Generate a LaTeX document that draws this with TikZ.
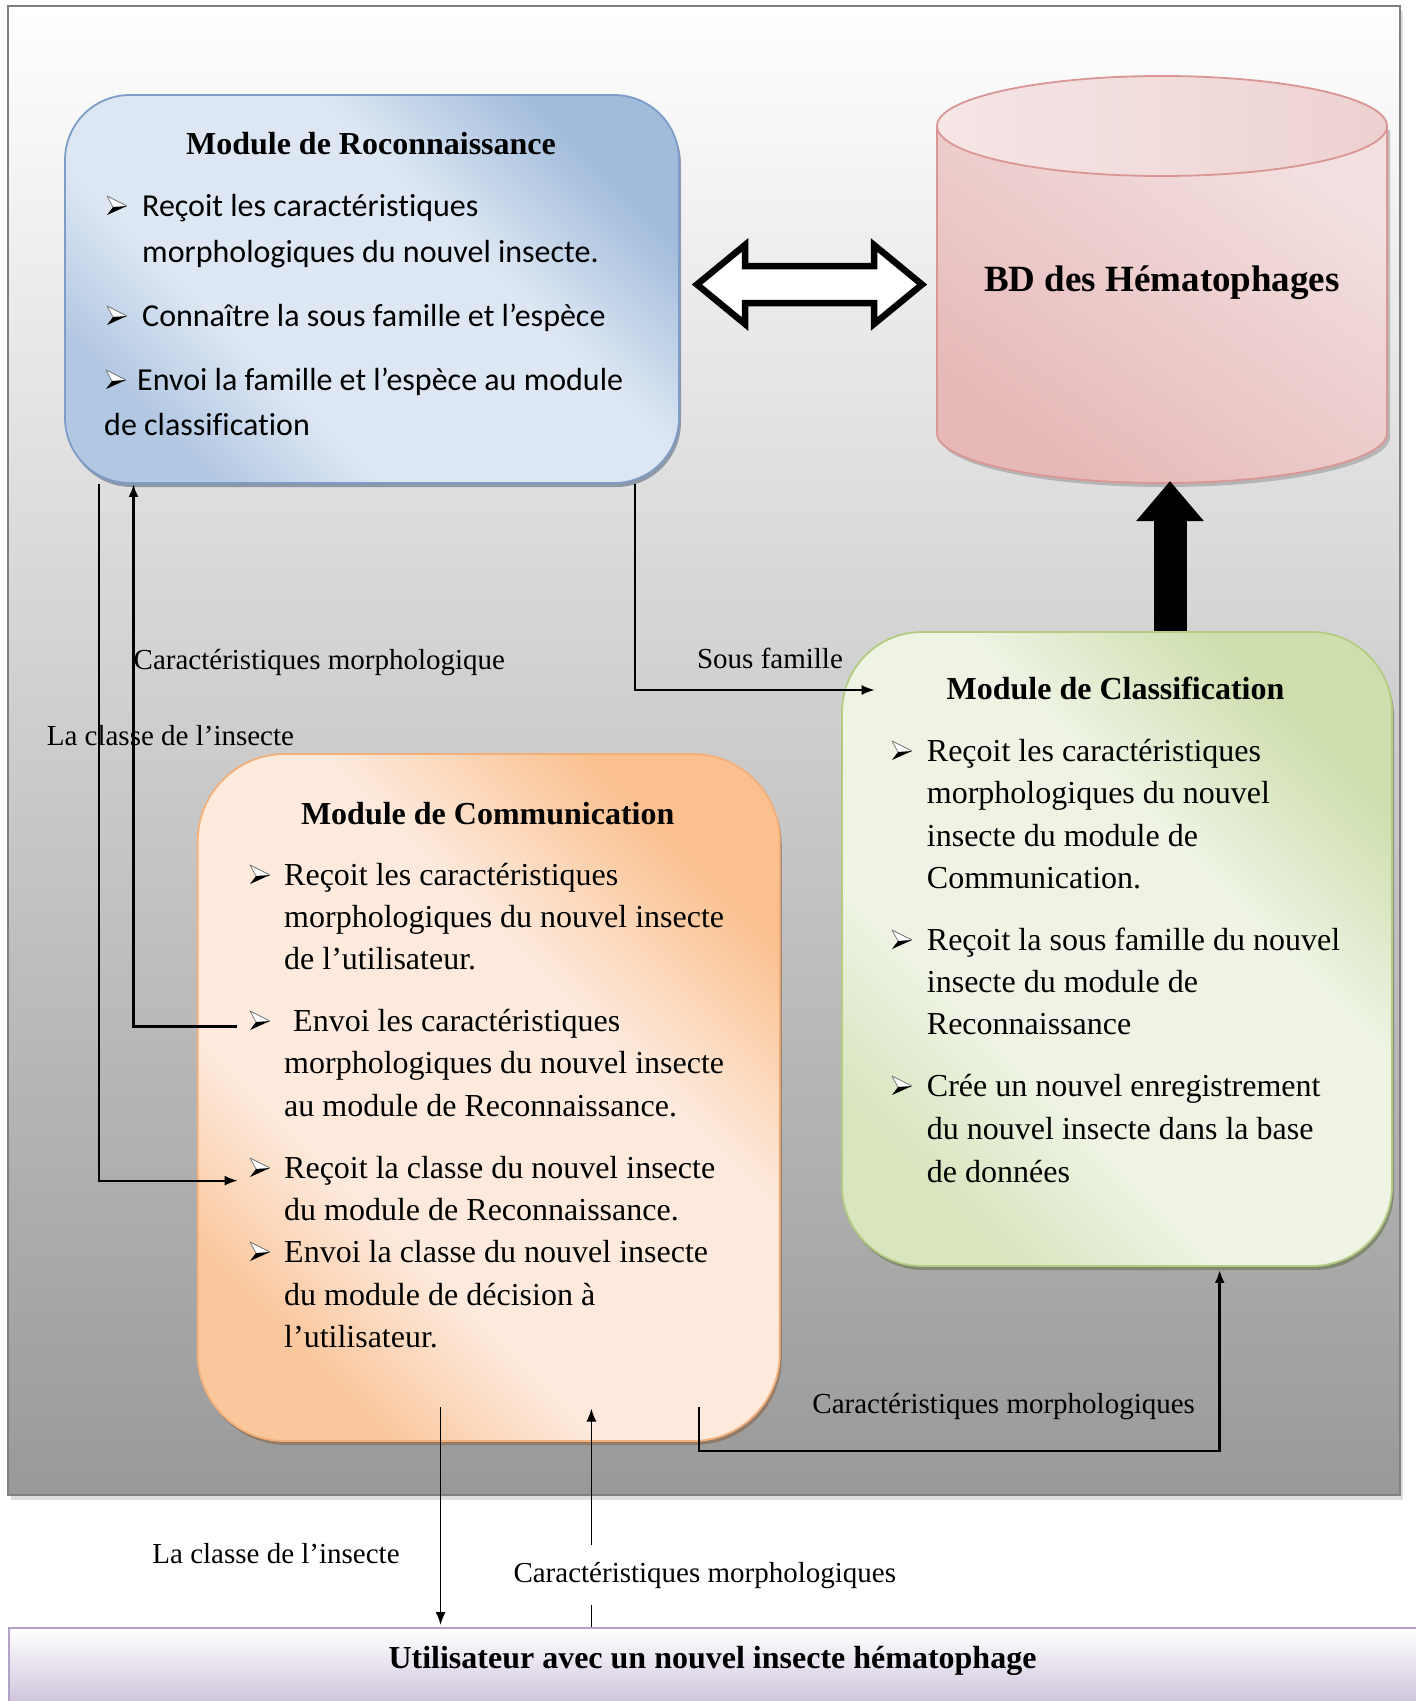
\documentclass[tikz,border=0pt]{standalone}
\usepackage{fontspec}
\setmainfont{Liberation Serif}
\newfontfamily\calibfont[Ligatures=NoCommon]{Carlito}
\usetikzlibrary{arrows.meta,shadows}

\definecolor{recB}{HTML}{7E9CC8}
\definecolor{recD}{HTML}{B2C7E2}
\definecolor{recE}{HTML}{A1BBDB}
\definecolor{recL}{HTML}{DDE7F3}
\definecolor{dbB}{HTML}{D99694}
\definecolor{dbD}{HTML}{E6B8B7}
\definecolor{dbL}{HTML}{F3E0E0}
\definecolor{dbT}{HTML}{F6E6E6}
\definecolor{dbU}{HTML}{EDD1D1}
\definecolor{clsB}{HTML}{B3CC82}
\definecolor{clsD}{HTML}{D8E5BF}
\definecolor{clsE}{HTML}{CEDEAD}
\definecolor{clsL}{HTML}{EEF3E3}
\definecolor{comB}{HTML}{F5B07A}
\definecolor{comD}{HTML}{FAC69C}
\definecolor{comE}{HTML}{FAC08F}
\definecolor{comL}{HTML}{FDEADC}
\definecolor{usrB}{HTML}{B3A2C7}
\definecolor{usrD}{HTML}{CBC0DA}
\definecolor{frmB}{HTML}{7F7F7F}
\definecolor{frmD}{HTML}{999999}

% diagonal fills: darker corners, broad light centre
\pgfdeclareverticalshading{recsh}{100bp}{color(0bp)=(recD); color(25bp)=(recD); color(37bp)=(recL); color(60bp)=(recL); color(75bp)=(recE); color(100bp)=(recE)}
\pgfdeclareverticalshading{clssh}{100bp}{color(0bp)=(clsD); color(25bp)=(clsD); color(37bp)=(clsL); color(60bp)=(clsL); color(75bp)=(clsE); color(100bp)=(clsE)}
\pgfdeclareverticalshading{comsh}{100bp}{color(0bp)=(comD); color(25bp)=(comD); color(37bp)=(comL); color(60bp)=(comL); color(75bp)=(comE); color(100bp)=(comE)}

\begin{document}
\begin{tikzpicture}[x=1pt,y=-1pt,
  >={Latex[length=13pt,width=10pt]},
  bul/.pic={
    \fill[white] (0,-20) -- (20,-10) -- (6,-9) -- cycle;
    \draw[black!55, line width=0.7pt, line join=round] (6,-9) -- (0,-20) -- (20,-10);
    \fill[black] (6,-9) -- (20,-10) -- (0,-1) -- cycle;
  },
  frame/.style={draw=frmB, line width=2pt, minimum width=1392pt, minimum height=1489pt,
    top color=white, bottom color=frmD,
    drop shadow={shadow xshift=3pt,shadow yshift=-5pt,fill=black!25}},
  recbox/.style={draw=recB, line width=1.8pt, rounded corners=65pt,
    minimum width=614pt, minimum height=388pt, shading=recsh, shading angle=-45,
    drop shadow={shadow xshift=2pt,shadow yshift=-4pt,fill=recB!60!black,opacity=.55}},
  clsbox/.style={draw=clsB, line width=1.8pt, rounded corners=80pt,
    minimum width=550pt, minimum height=634pt, shading=clssh, shading angle=-45,
    drop shadow={shadow xshift=2pt,shadow yshift=-4pt,fill=clsB!55!black,opacity=.55}},
  combox/.style={draw=comB, line width=1.8pt, rounded corners=87pt,
    minimum width=582pt, minimum height=687pt, shading=comsh, shading angle=-45,
    drop shadow={shadow xshift=2pt,shadow yshift=-4pt,fill=comB!55!black,opacity=.55}},
  usrbar/.style={draw=usrB, line width=2pt, minimum width=1420pt, minimum height=80pt,
    top color=white, bottom color=usrD},
  ttl/.style={font=\bfseries\fontsize{32}{38}\selectfont, inner sep=0pt, anchor=base},
  rt/.style={font=\calibfont\fontsize{32}{45}\selectfont, inner sep=0pt, anchor=base west},
  bt/.style={font=\fontsize{32}{42}\selectfont, inner sep=0pt, anchor=base west},
  lbl/.style={font=\fontsize{29}{34}\selectfont, inner sep=0pt, anchor=base},
  thin/.style={line width=1.5pt},
  mid/.style={line width=2pt},
  thick/.style={line width=2.6pt}
]
\useasboundingbox (0,0) rectangle (1416,1701);
\fill[white] (0,0) rectangle (1416,1701);

% background panel
\node[frame] (frm) at (704,750) {};

% module boxes
\node[recbox] (rec) at (372,289) {};
\node[clsbox] (cls) at (1117,949) {};
\node[combox] (com) at (488.75,1097.5) {};

% database cylinder
\fill[black!45, opacity=.5, shift={(3,4)}]
  (937,126) -- (937,433) arc[start angle=180, end angle=360, x radius=225pt, y radius=50pt]
  -- (1387,126) -- cycle;
\path[draw=dbB, line width=1.8pt, top color=dbL, bottom color=dbD, shading angle=-35]
  (937,126) -- (937,433) arc[start angle=180, end angle=360, x radius=225pt, y radius=50pt]
  -- (1387,126) -- cycle;
\path[draw=dbB, line width=1.8pt, left color=dbT, right color=dbU]
  (1162,126) ellipse[x radius=225pt, y radius=50pt];
\node[font=\bfseries\fontsize{37}{42}\selectfont, inner sep=0pt, anchor=base] (db) at (1162,291) {BD des Hématophages};
\coordinate (dbbot) at (1170,481);

% user bar
\node[usrbar] (user) at (719,1668) {};
\node[ttl] (usertxt) at (712.5,1668) {Utilisateur avec un nouvel insecte hématophage};

% titles
\node[ttl] (rect) at (371,154) {Module de Roconnaissance};
\node[ttl] (comt) at (487.7,824) {Module de Communication};
\node[ttl] (clst) at (1115.5,699) {Module de Classification};

% recognition module text
\pic at (107,216) {bul};
\node[rt] (r1) at (142,216) {Reçoit les caractéristiques};
\node[rt] (r2) at (142,262) {morphologiques du nouvel insecte.};
\pic at (107,326) {bul};
\node[rt] (r3) at (142,326) {Connaître la sous famille et l’espèce};
\pic at (106,390) {bul};
\node[rt] (r4) at (137,390) {Envoi la famille et l’espèce au module};
\node[rt] (r5) at (104,435) {de classification};

% communication module text
\pic at (250,885) {bul};
\node[bt] (c1) at (284,885) {Reçoit les caractéristiques};
\node[bt] (c2) at (284,927) {morphologiques du nouvel insecte};
\node[bt] (c3) at (284,969) {de l’utilisateur.};
\pic at (250,1031) {bul};
\node[bt] (c4) at (293,1031) {Envoi les caractéristiques};
\node[bt] (c5) at (284,1073) {morphologiques du nouvel insecte};
\node[bt] (c6) at (284,1116) {au module de Reconnaissance.};
\pic at (250,1178) {bul};
\node[bt] (c7) at (284,1178) {Reçoit la classe du nouvel insecte};
\node[bt] (c8) at (284,1220) {du module de Reconnaissance.};
\pic at (250,1262) {bul};
\node[bt] (c9) at (284,1262) {Envoi la classe du nouvel insecte};
\node[bt] (c10) at (284,1305) {du module de décision à};
\node[bt] (c11) at (284,1347) {l’utilisateur.};

% classification module text
\pic at (892,761) {bul};
\node[bt] (k1) at (926.7,761) {Reçoit les caractéristiques};
\node[bt] (k2) at (926.7,803) {morphologiques du nouvel};
\node[bt] (k3) at (926.7,846) {insecte du module de};
\node[bt] (k4) at (926.7,888) {Communication.};
\pic at (892,950) {bul};
\node[bt] (k5) at (926.7,950) {Reçoit la sous famille du nouvel};
\node[bt] (k6) at (926.7,992) {insecte du module de};
\node[bt] (k7) at (926.7,1034) {Reconnaissance};
\pic at (892,1096) {bul};
\node[bt] (k8) at (926.7,1096) {Crée un nouvel enregistrement};
\node[bt] (k9) at (926.7,1139) {du nouvel insecte dans la base};
\node[bt] (k10) at (926.7,1182) {de données};

% hollow double arrow between recognition and database
\draw[line width=6.5pt, fill=white, line join=miter]
  (697,284.5) -- (745,245) -- (745,266) -- (874,266) -- (874,245) -- (922,284.5)
  -- (874,324) -- (874,303) -- (745,303) -- (745,324) -- cycle;

% heavy arrow from classification up to the database
\draw[line width=33pt, -{Triangle[length=40pt,width=65pt]}] (dbbot |- cls.north) -- (dbbot);

% connector end points
\coordinate (p1v) at (98.7,1180.6);  \coordinate (p1) at (237.6,1180.6);
\coordinate (p2v) at (133.5,1026.5); \coordinate (p2) at (236.6,1026.5);
\coordinate (p3v) at (634.8,690);    \coordinate (p3) at (874.6,690);
\coordinate (p4) at (698.8,1407.4);  \coordinate (p4c) at (1219.7,1450.8);
\coordinate (p5) at (440.6,1407.4);
\coordinate (p6) at (591.4,1408.5);

\draw[mid, ->] (rec.south -| p1v) |- (p1);
\draw[thick, <-] (rec.south -| p2v) |- (p2);
\draw[thin, ->] (rec.south -| p3v) |- (p3);
\draw[thick, ->, shorten >=3pt] (p4) |- (p4c) -- (cls.south -| p4c);
\draw[thin, ->, shorten >=2pt] (p5) -- (user.north -| p5);
\draw[thin, ->] (user.north -| p6) -- (p6);

% connector labels
\node[lbl, anchor=base west] (l1) at (133.5,669) {Caractéristiques morphologique};
\node[lbl] (l2) at (770,668) {Sous famille};
\node[lbl] (l3) at (170.4,745) {La classe de l’insecte};
\node[lbl] (l4) at (276,1563) {La classe de l’insecte};
\node[lbl, fill=white, inner xsep=2pt, inner ysep=17pt] (l5) at (704.8,1582) {Caractéristiques morphologiques};
\node[lbl] (l6) at (1003.7,1413) {Caractéristiques morphologiques};
\end{tikzpicture}
\end{document}
